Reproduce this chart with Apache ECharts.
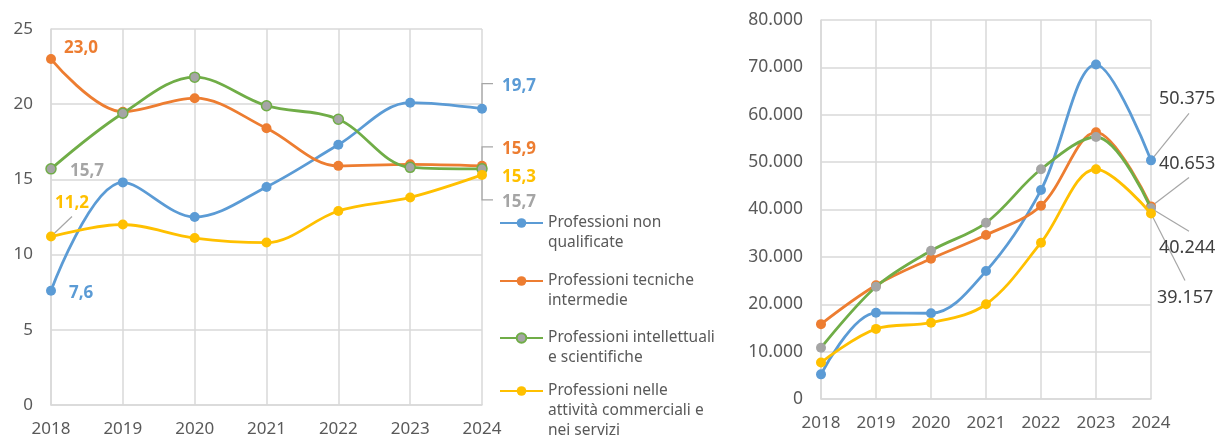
<!DOCTYPE html>
<html>
<head>
<meta charset="utf-8">
<script src="https://cdn.jsdelivr.net/npm/echarts@6/dist/echarts.min.js"></script>
<style>
  html, body { margin: 0; padding: 0; background: #fff; }
  #chart { width: 1220px; height: 441px; }
</style>
</head>
<body>
<div id="chart"></div>
<script>
// categorie
const anni = ["2018", "2019", "2020", "2021", "2022", "2023", "2024"];
const nomiSerie = [
  "Professioni non\nqualificate",
  "Professioni tecniche\nintermedie",
  "Professioni intellettuali\ne scientifiche",
  "Professioni nelle\nattività commerciali e\nnei servizi"
];

// grafico sinistro: quote (%)
const quotaNonQualificate = [7.6, 14.8, 12.5, 14.5, 17.3, 20.1, 19.7];
const quotaTecniche = [23.0, 19.5, 20.4, 18.4, 15.9, 16.0, 15.9];
const quotaIntellettuali = [15.7, 19.4, 21.8, 19.9, 19.0, 15.8, 15.7];
const quotaCommerciali = [11.2, 12.0, 11.1, 10.8, 12.9, 13.8, 15.3];

// grafico destro: valori assoluti
const valoriNonQualificate = [5200, 18200, 18100, 27000, 44100, 70600, 50375];
const valoriTecniche = [15800, 24000, 29600, 34600, 40800, 56300, 40653];
const valoriIntellettuali = [10800, 23700, 31300, 37200, 48500, 55300, 40244];
const valoriCommerciali = [7700, 14800, 16100, 20000, 33000, 48500, 39157];

const colori = ["#5b9bd5", "#ed7d31", "#70ad47", "#ffc000"];
const grigioMarker = "#a5a5a5";
const font = "Noto Sans";

// etichette: indice punto -> spostamento dal punto; linea guida relativa al punto
const etichetteSx = [
  { 0: { dx: 18, dy: 2 }, 6: { dx: 20, dy: -23, line: [[0, 0], [0, -25], [11, -25]] } },
  { 0: { dx: 13, dy: -11 }, 6: { dx: 20, dy: -17, line: [[0, 0], [0, -19], [11, -19]] } },
  { 0: { dx: 19, dy: 2 }, 6: { dx: 20, dy: 33, line: [[0, 0], [0, 31], [11, 31]] } },
  { 0: { dx: 4, dy: -33, line: [[0, 0], [21, -20]] }, 6: { dx: 20, dy: 2 } }
];
const etichetteDx = [
  { 6: { dx: 8, dy: -61, line: [[0, 0], [38, -47]] } },
  { 6: { dx: 8, dy: -43, line: [[0, 0], [38, -29]] } },
  { 6: { dx: 8, dy: 40, line: [[0, 0], [38, 23]] } },
  { 6: { dx: 6, dy: 84, line: [[0, 0], [34, 67]] } }
];

function fmtVirgola(v) { return v.toFixed(1).replace(".", ","); }
function fmtMigliaia(v) { return String(Math.round(v)).replace(/\B(?=(\d{3})+(?!\d))/g, "."); }

function costruisciSerie(valori, i, asse, etichette, labelColor, bold, fmt) {
  const data = valori.map(function (v, j) {
    if (!etichette[j]) return v;
    return { value: v, label: { show: true } };
  });
  const markerFill = i === 2 ? grigioMarker : colori[i];
  return {
    name: nomiSerie[i],
    type: "line",
    xAxisIndex: asse,
    yAxisIndex: asse,
    smooth: 0.35,
    symbol: "circle",
    symbolSize: 10,
    data: data,
    lineStyle: { color: colori[i], width: 2.8 },
    itemStyle: {
      color: markerFill,
      borderColor: asse === 0 ? colori[i] : markerFill,
      borderWidth: i === 2 && asse === 0 ? 1.5 : 0
    },
    label: {
      show: false,
      color: labelColor,
      fontFamily: font,
      fontWeight: bold ? "bold" : "normal",
      fontSize: bold ? 17 : 18,
      formatter: function (p) { return fmt(p.value); }
    },
    labelLayout: function (p) {
      const e = etichette[p.dataIndex];
      if (!e) return {};
      const cx = p.rect.x + p.rect.width / 2;
      const cy = p.rect.y + p.rect.height / 2;
      return { x: cx + e.dx, y: cy + e.dy, align: "left", verticalAlign: "middle" };
    },
    emphasis: { disabled: true },
    z: 2 + i
  };
}

const coloriEtichetteSx = ["#5b9bd5", "#ed7d31", "#a5a5a5", "#ffc000"];
const quote = [quotaNonQualificate, quotaTecniche, quotaIntellettuali, quotaCommerciali];
const valori = [valoriNonQualificate, valoriTecniche, valoriIntellettuali, valoriCommerciali];

const serie = [];
quote.forEach(function (q, i) {
  serie.push(costruisciSerie(q, i, 0, etichetteSx[i], coloriEtichetteSx[i], true, fmtVirgola));
});
valori.forEach(function (v, i) {
  serie.push(costruisciSerie(v, i, 1, etichetteDx[i], "#404040", false, fmtMigliaia));
});

const assiX = [0, 1].map(function (g) {
  return {
    type: "category",
    gridIndex: g,
    data: anni,
    boundaryGap: false,
    axisLine: { lineStyle: { color: "#d9d9d9", width: 1.5 } },
    axisTick: { show: false },
    axisLabel: { color: "#595959", fontFamily: font, fontSize: 17, margin: 16 },
    splitLine: { show: true, lineStyle: { color: "#d9d9d9", width: 1.5 } }
  };
});

const assiY = [
  {
    type: "value", gridIndex: 0, min: 0, max: 25, interval: 5,
    axisLine: { show: true, lineStyle: { color: "#d9d9d9", width: 1.5 } },
    axisLabel: { color: "#595959", fontFamily: font, fontSize: 17, margin: 18 },
    splitLine: { lineStyle: { color: "#d9d9d9", width: 1.5 } }
  },
  {
    type: "value", gridIndex: 1, min: 0, max: 80000, interval: 10000,
    axisLine: { show: true, lineStyle: { color: "#d9d9d9", width: 1.5 } },
    axisLabel: { color: "#595959", fontFamily: font, fontSize: 17.5, margin: 18, formatter: fmtMigliaia },
    splitLine: { lineStyle: { color: "#d9d9d9", width: 1.5 } }
  }
];

// una legenda per voce; righe vuote in testa per allineare l'icona alla prima riga
const legendTop = [193, 251, 308, 341];
const righeVuote = ["\n", "\n", "\n", "\n\n"];
const legende = nomiSerie.map(function (n, i) {
  return {
    orient: "vertical",
    left: 499,
    top: legendTop[i],
    padding: 0,
    itemWidth: 43,
    itemHeight: 12,
    data: [{ name: n }],
    selectedMode: false,
    formatter: function (name) { return righeVuote[i] + name; },
    textStyle: {
      color: "#595959",
      fontFamily: font,
      fontSize: 15.5,
      lineHeight: 20
    }
  };
});

const chart = echarts.init(document.getElementById("chart"));
chart.setOption({
  animation: false,
  backgroundColor: "#fff",
  grid: [
    { left: 51, top: 29, width: 431, height: 376 },
    { left: 821, top: 20, width: 330, height: 379 }
  ],
  legend: legende,
  xAxis: assiX,
  yAxis: assiY,
  series: serie
});

// linee guida delle etichette, ancorate ai punti tramite le scale del grafico
const guide = [];
function aggiungiGuide(gruppoValori, gruppoEtichette, asse) {
  gruppoValori.forEach(function (vals, i) {
    Object.keys(gruppoEtichette[i]).forEach(function (k) {
      const e = gruppoEtichette[i][k];
      if (!e.line) return;
      const j = Number(k);
      const p = chart.convertToPixel({ xAxisIndex: asse, yAxisIndex: asse }, [anni[j], vals[j]]);
      guide.push({
        type: "polyline",
        z: 1,
        silent: true,
        shape: { points: e.line.map(function (pt) { return [p[0] + pt[0], p[1] + pt[1]]; }) },
        style: { stroke: "#a6a6a6", lineWidth: 1.2, fill: null }
      });
    });
  });
}
aggiungiGuide(quote, etichetteSx, 0);
aggiungiGuide(valori, etichetteDx, 1);
chart.setOption({ graphic: guide });
</script>
</body>
</html>
